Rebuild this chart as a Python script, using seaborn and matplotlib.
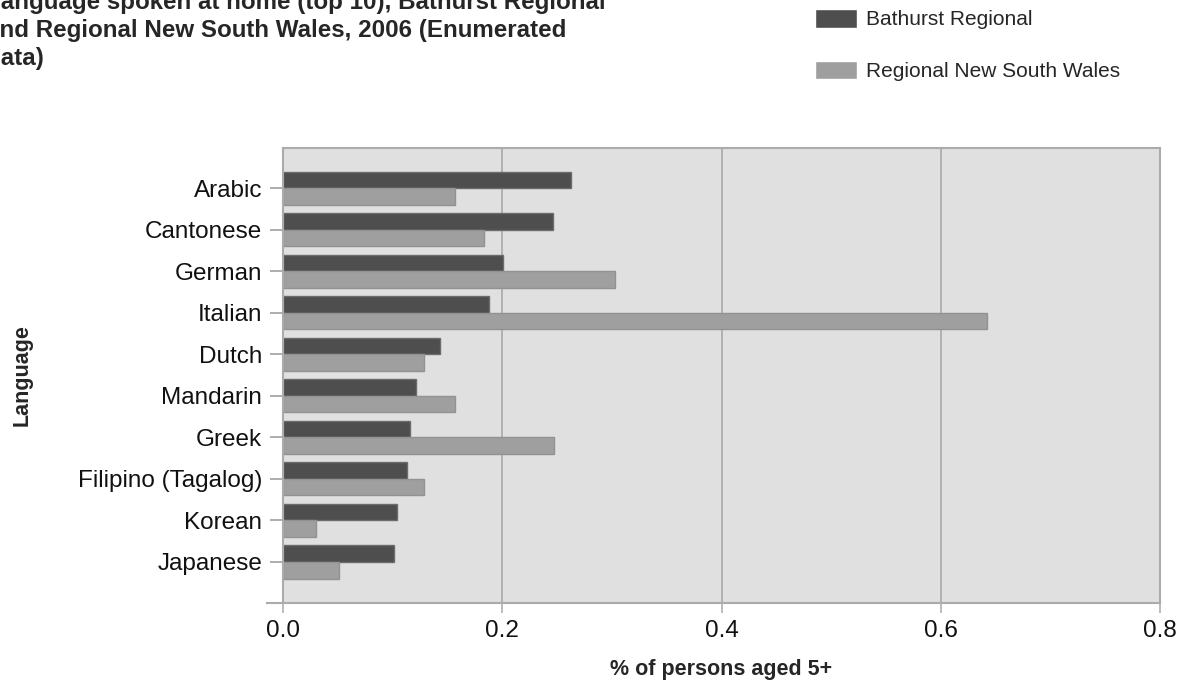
import matplotlib
matplotlib.use("Agg")
import matplotlib.pyplot as plt
import seaborn as sns
import pandas as pd

# Top 10 languages spoken at home, % of persons aged 5+
languages = ["Arabic", "Cantonese", "German", "Italian", "Dutch", "Mandarin",
             "Greek", "Filipino (Tagalog)", "Korean", "Japanese"]
bathurst = [0.263, 0.246, 0.201, 0.188, 0.143, 0.121, 0.116, 0.113, 0.104, 0.101]
regional_nsw = [0.157, 0.183, 0.303, 0.642, 0.129, 0.157, 0.247, 0.129, 0.030, 0.051]
series_names = ["Bathurst Regional", "Regional New South Wales"]
x_ticks = [0.0, 0.2, 0.4, 0.6, 0.8]
x_tick_labels = ["0.0", "0.2", "0.4", "0.6", "0.8"]

title = ("Language spoken at home (top 10), Bathurst Regional\n"
         "and Regional New South Wales, 2006 (Enumerated\n"
         "data)")

df = pd.DataFrame({
    "Language": languages * 2,
    "value": bathurst + regional_nsw,
    "area": [series_names[0]] * len(languages) + [series_names[1]] * len(languages),
})

sns.set_style("white")
plt.rcParams["font.family"] = ["Liberation Sans", "DejaVu Sans"]

W, H = 1186, 687
fig = plt.figure(figsize=(W / 100, H / 100), dpi=100)
ax = fig.add_axes([283 / W, 1 - 603 / H, 877 / W, 455 / H])
ax.set_facecolor("#e0e0e0")

sns.barplot(data=df, y="Language", x="value", hue="area", order=languages,
            hue_order=series_names, palette=["#4e4e4e", "#9f9f9f"],
            width=0.8, orient="h", saturation=1, linewidth=1.0, ax=ax)

edge_cols = ["#6c6c6c", "#929292"]
for cont, ec in zip(ax.containers, edge_cols):
    for p in cont:
        p.set_edgecolor(ec)

ax.set_xlim(0, 0.8)
ax.set_ylim(9.99, -0.97)
ax.set_xticks(x_ticks)
ax.set_xticklabels(x_tick_labels)

ax.set_axisbelow(True)
ax.xaxis.grid(True, color="#a9a9a9", linewidth=1.2)
ax.yaxis.grid(False)

for s in ax.spines.values():
    s.set_visible(True)
    s.set_color("#ababab")
    s.set_linewidth(1.5)
ax.spines["bottom"].set_bounds(-0.0145, 0.8)

ax.tick_params(axis="y", length=9.4, width=1.2, color="#a0a0a0", pad=5.5,
               labelsize=17.5, labelcolor="#111111", left=True)
ax.tick_params(axis="x", length=7, width=1.2, color="#b0b0b0", pad=5.5,
               labelsize=17.5, labelcolor="#111111", bottom=True)

ax.set_xlabel("% of persons aged 5+", fontsize=15.5, fontweight="bold")
ax.set_ylabel("Language", fontsize=15.5, fontweight="bold")
ax.xaxis.label.set_va("center")
ax.xaxis.set_label_coords(0.5, (603 - 670) / 455)
ax.yaxis.label.set_va("center")
ax.yaxis.set_label_coords((22 - 283) / 877, 0.5)

handles, labels = ax.get_legend_handles_labels()
ax.get_legend().remove()
fig.legend(handles, labels, loc="upper left",
           bbox_to_anchor=(815 / W, 1 - 9 / H), frameon=False, fontsize=15,
           handlelength=2.0, handleheight=1.0, handletextpad=0.43,
           labelspacing=1.5, borderpad=0, borderaxespad=0)

fig.text(-14 / W, 1 + 9 / H, title, ha="left", va="top", fontsize=17.4,
         fontweight="bold", linespacing=1.29)

fig.savefig("out.png", dpi=100)
